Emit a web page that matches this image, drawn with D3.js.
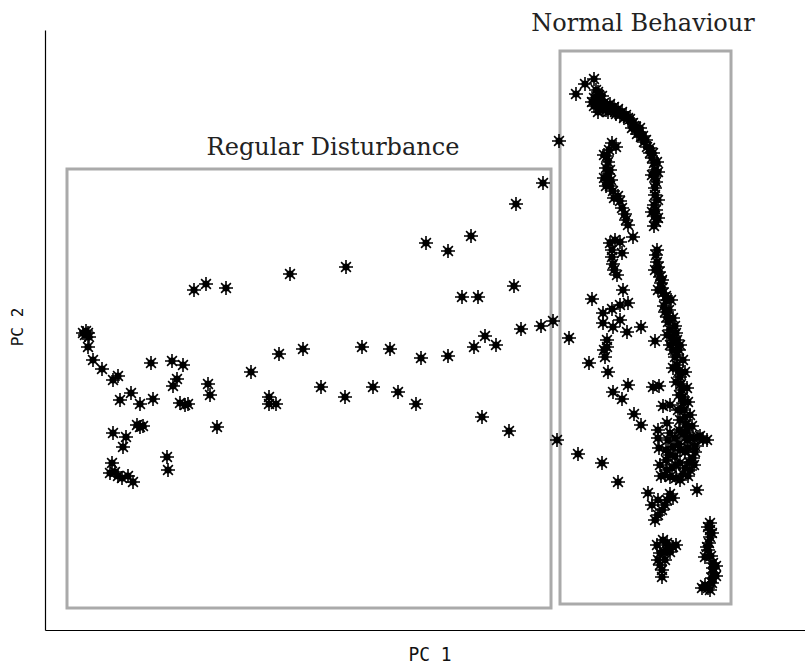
<!DOCTYPE html>
<html>
<head>
<meta charset="utf-8">
<script src="https://cdn.jsdelivr.net/npm/d3@7"></script>
<style>
  body { margin: 0; background: #fff; }
  .box { fill: none; stroke: #aaaaaa; stroke-width: 3; }
  .title { font-family: "DejaVu Serif", serif; font-size: 24px; fill: #222; }
  .axlab { font-family: "DejaVu Sans Mono", monospace; font-size: 16px; fill: #111; }
</style>
</head>
<body>
<script>
// PC scores (arbitrary units)
var disturbance = [
  [4.0,29.5],[4.3,29.7],[3.8,29.7],[4.4,29.3],[4.1,29.9],[4.3,28.3],[4.8,27.0],[5.7,26.1],
  [6.8,25.0],[7.3,25.4],[7.5,23.0],[8.6,23.7],[9.5,22.6],[10.8,23.1],[10.6,26.7],[12.7,26.9],
  [13.8,26.5],[13.2,25.1],[12.8,24.4],[13.5,22.7],[14.3,22.6],[14.0,22.5],[16.3,24.6],[16.5,23.5],
  [17.2,20.3],[9.5,20.3],[9.2,20.5],[9.8,20.4],[6.8,19.7],[8.1,19.3],[7.8,18.3],[6.7,16.7],
  [6.5,15.7],[7.0,15.8],[7.3,15.4],[7.7,15.2],[8.3,15.4],[8.8,14.8],[12.2,17.3],[12.3,16.0],
  [14.9,34.0],[16.1,34.6],[18.1,34.2],[24.5,35.6],[30.1,36.3],[38.1,38.7],[40.3,37.9],[42.6,39.4],
  [47.1,42.6],[49.8,44.7],[41.7,33.3],[43.3,33.3],[46.9,34.4],[50.8,30.9],[49.6,30.4],[47.6,30.1],
  [44.0,29.4],[42.9,28.3],[45.1,28.5],[40.3,27.4],[37.6,27.2],[34.5,28.1],[31.7,28.3],[25.8,28.1],
  [23.4,27.6],[20.6,25.8],[27.6,24.3],[32.8,24.3],[35.3,23.8],[37.1,22.6],[30.0,23.3],[22.4,23.3],
  [22.4,22.6],[23.1,22.6],[43.7,21.3],[46.4,19.9],[51.4,48.9],[51.2,19.0],[53.3,17.6],[55.7,16.7],
  [57.3,14.8],[52.4,29.2],[54.7,33.1],[54.4,26.7]
];

var normal = [
  [53.1,53.6],[54.0,54.6],[54.9,55.1],
  [55.1,54.0],[55.4,53.5],[54.9,53.2],[55.6,53.0],[55.2,52.6],[55.9,52.7],[55.5,52.2],[54.9,52.4],
  [56.2,52.4],[55.8,52.0],[56.5,52.6],[56.9,52.3],[57.3,52.1],[57.7,51.8],[58.1,51.5],[58.5,51.1],
  [58.8,50.7],[59.1,50.3],[59.4,49.8],[59.6,49.3],[59.9,48.8],[60.2,48.3],[60.5,47.7],[60.7,47.2],
  [60.9,46.7],[61.0,46.0],[61.0,45.4],[61.1,44.8],[61.0,44.2],[61.0,43.5],[60.9,42.5],[61.1,42.0],
  [61.0,41.4],[61.1,40.8],[61.2,38.0],[61.1,37.5],[56.3,51.8],[57.1,51.6],[57.9,51.2],[58.7,50.2],
  [59.2,49.6],
  [55.3,53.8],[54.7,52.8],[55.7,53.4],[56.1,52.0],[55.3,51.8],[56.6,52.2],[57.0,51.8],[57.5,51.5],
  [58.3,51.2],[58.9,50.4],[59.5,50.2],[59.8,49.4],[60.1,49.0],[60.5,48.2],[60.8,47.7],[61.2,46.8],
  [61.3,45.8],[60.7,45.5],[61.3,43.0],[60.7,41.8],[61.3,41.2],[60.9,40.4],
  [56.7,48.7],[57.1,48.3],[56.4,48.0],[56.2,47.4],[56.3,46.8],[56.1,46.2],[56.3,45.6],[56.2,45.0],
  [56.5,44.4],[56.8,43.9],[57.3,43.4],[57.5,42.9],[57.7,42.2],[58.0,41.6],[58.1,41.0],[58.3,40.5],
  [55.9,47.5],[56.5,46.0],[55.9,45.2],[56.6,45.0],[56.1,44.4],[56.9,43.2],
  [58.8,39.3],[57.5,38.8],[56.5,38.7],[57.0,39.0],[56.7,38.0],[56.7,37.3],[57.7,37.7],[56.8,36.6],
  [56.9,36.0],[57.2,35.5],
  [61.2,36.8],[61.3,36.3],[61.4,35.8],[61.5,35.3],[61.6,34.7],[61.7,34.2],[61.8,33.7],[61.9,32.4],
  [62.0,31.8],[62.2,31.3],[62.3,30.8],[62.5,30.0],[62.7,29.3],[62.8,28.7],[62.8,28.0],[63.0,27.3],
  [63.2,26.5],[63.4,25.9],[63.5,25.3],[63.6,24.6],[63.7,24.0],[63.8,23.3],[63.8,22.7],[63.9,22.0],
  [64.0,21.3],[64.1,20.6],[64.2,20.0],[64.8,19.2],[65.8,19.0],[65.3,19.3],
  [63.2,29.0],[63.4,28.0],[62.5,28.5],[63.1,29.7],[62.6,33.0],[62.1,33.0],
  [61.0,36.0],[61.7,35.0],[61.3,34.0],[62.1,33.4],[62.4,32.0],[62.8,31.2],[63.0,30.4],[62.2,29.5],
  [63.5,28.5],[63.2,27.5],[63.8,27.0],[62.8,26.2],[64.0,25.8],[63.1,24.8],[64.2,24.2],[63.4,23.5],
  [64.3,22.8],[63.3,22.0],[64.5,21.5],[63.5,21.0],[64.7,20.4],[63.4,20.0],[65.5,19.4],[66.2,19.0],
  [62.8,18.3],[64.2,19.0],[63.5,16.7],[62.5,15.3],[64.5,16.0],[62.3,19.0],[62.1,18.0],[62.1,17.0],
  [63.0,17.4],[64.0,17.8],[64.8,17.2],[63.4,18.6],[62.7,16.2],[63.8,15.6],[65.0,18.4],[63.1,15.2],
  [62.2,16.0],[64.4,16.8],[65.2,14.0],[61.4,18.2],[61.5,16.5],[61.6,15.4],
  [62.5,19.7],[63.0,19.2],[63.8,19.6],[64.5,19.2],[62.5,17.5],[63.5,18.0],[64.3,18.2],[65.0,17.8],
  [63.1,16.5],[64.0,16.2],[64.9,16.5],[62.0,15.5],[63.5,15.0],[64.3,15.4],
  [61.8,22.4],[62.5,22.5],[62.2,20.7],[61.3,20.0],[61.3,19.2],[60.8,24.3],[61.4,24.4],[58.9,21.6],
  [59.6,20.5],[61.0,28.9],[59.6,30.3],[58.3,24.5],[56.8,23.8],[57.7,23.1],[56.3,25.8],[56.0,27.3],
  [56.2,28.3],[56.2,29.0],[55.8,30.7],[56.8,30.3],[57.5,31.0],[58.2,29.8],[55.8,31.7],[56.7,32.1],
  [57.5,32.5],[58.3,32.7],[57.8,34.0],[55.9,28.0],
  [60.3,13.7],[60.7,12.5],[62.2,13.0],[62.8,13.2],[61.7,12.0],[61.0,11.0],[61.3,11.5],[62.0,12.5],
  [61.3,13.0],[62.5,13.6],
  [62.2,8.7],[62.8,8.3],[61.2,8.5],[61.8,9.0],[62.5,7.8],[61.9,7.8],[61.3,7.0],[61.7,6.0],[61.7,5.3],
  [63.1,8.5],[62.3,8.2],[61.5,7.7],[62.0,7.0],[61.5,6.5],
  [66.5,10.7],[66.5,10.0],[66.5,9.3],[66.4,8.7],[66.3,8.0],[66.0,7.3],[66.8,6.7],[66.8,6.2],
  [66.8,5.7],[66.7,5.2],[66.7,4.7],[65.7,4.2],[66.3,4.2],
  [66.3,10.3],[66.7,9.7],[66.2,8.3],[66.6,7.4],[67.1,6.4],[67.1,5.4],[66.5,4.0],[66.0,4.5]
];

// region boxes in data units: [x0, x1, y0, y1]
var boxNames = ["Regular Disturbance", "Normal Behaviour"];
var boxExtents = [[2.2, 50.6, 2.2, 46.1], [51.5, 68.6, 2.6, 57.9]];

var margin = {top: 30, right: 0, bottom: 36, left: 45},
    width = 805 - margin.left - margin.right,
    height = 666 - margin.top - margin.bottom;

var x = d3.scaleLinear().domain([0, 76]).range([0, width]);
var y = d3.scaleLinear().domain([0, 60]).range([height, 0]);

var svg = d3.select("body").append("svg")
    .attr("width", 805)
    .attr("height", 666)
  .append("g")
    .attr("transform", "translate(" + margin.left + "," + margin.top + ")");

// axes: plain lines, no ticks
svg.append("g")
    .attr("transform", "translate(0," + height + ")")
    .call(d3.axisBottom(x).ticks(0).tickSizeOuter(0));
svg.append("g")
    .call(d3.axisLeft(y).ticks(0).tickSizeOuter(0));
svg.selectAll(".domain").attr("stroke", "#000").attr("stroke-width", 1.2);

svg.append("text").attr("class", "axlab")
    .attr("transform", "translate(" + x(38.5) + "," + (height + 31) + ") scale(1.12,1.25)")
    .attr("text-anchor", "middle").text("PC 1");
svg.append("text").attr("class", "axlab")
    .attr("transform", "translate(-22," + y(30.3) + ") rotate(-90)")
    .attr("text-anchor", "middle").text("PC 2");

// region boxes + labels
svg.selectAll(".box").data(boxExtents).enter().append("rect")
    .attr("class", "box")
    .attr("x", function(d) { return x(d[0]); })
    .attr("y", function(d) { return y(d[3]); })
    .attr("width", function(d) { return x(d[1]) - x(d[0]); })
    .attr("height", function(d) { return y(d[2]) - y(d[3]); });

var titleGap = [14, 20], titleShift = [24, -2.5];
svg.selectAll(".title").data(boxExtents).enter().append("text")
    .attr("class", "title")
    .attr("x", function(d, i) { return (x(d[0]) + x(d[1])) / 2 + titleShift[i]; })
    .attr("y", function(d, i) { return y(d[3]) - titleGap[i]; })
    .attr("text-anchor", "middle")
    .text(function(d, i) { return boxNames[i]; });

// asterisk marker
var r = 7, k = 0.7;
var star = "M" + (-r) + ",0L" + r + ",0M0," + (-r) + "L0," + r +
    "M" + (-r * k) + "," + (-r * k) + "L" + (r * k) + "," + (r * k) +
    "M" + (-r * k) + "," + (r * k) + "L" + (r * k) + "," + (-r * k);

var pts = disturbance.concat(normal);
var g = svg.selectAll(".pt").data(pts).enter().append("g")
    .attr("class", "pt")
    .attr("transform", function(d) { return "translate(" + x(d[0]) + "," + y(d[1]) + ")"; });
g.append("path").attr("d", star).attr("stroke", "#000").attr("stroke-width", 1.6).attr("fill", "none");
g.append("circle").attr("r", 3.6).attr("fill", "#000");
</script>
</body>
</html>
